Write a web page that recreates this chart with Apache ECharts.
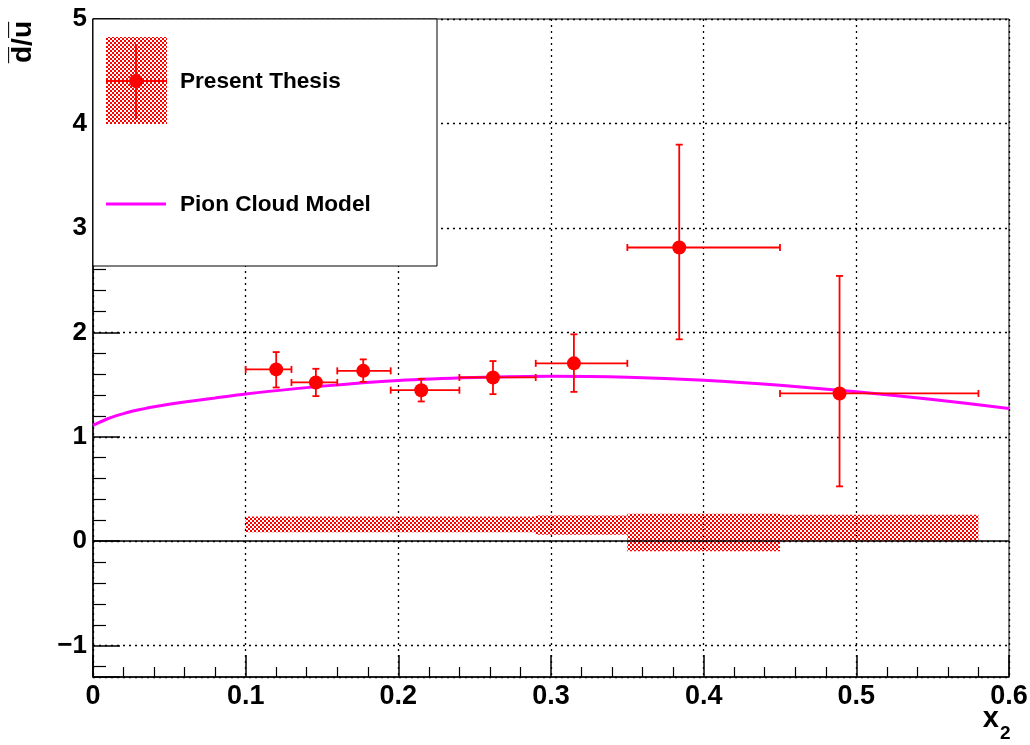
<!DOCTYPE html>
<html>
<head>
<meta charset="utf-8">
<script src="https://cdn.jsdelivr.net/npm/echarts@6/dist/echarts.min.js"></script>
<style>
  html, body { margin: 0; padding: 0; background: #fff; }
  #chart { width: 1030px; height: 745px; }
</style>
</head>
<body>
<div id="chart"></div>
<script>
// ---- data ----
const xCenter  = [0.120, 0.146, 0.177, 0.215, 0.262, 0.315, 0.384, 0.489];
const xLow     = [0.100, 0.130, 0.160, 0.195, 0.240, 0.290, 0.350, 0.450];
const xHigh    = [0.130, 0.160, 0.195, 0.240, 0.290, 0.350, 0.450, 0.580];
const ratio    = [1.645, 1.520, 1.631, 1.446, 1.568, 1.703, 2.812, 1.415];
const statLow  = [1.472, 1.389, 1.526, 1.338, 1.408, 1.430, 1.933, 0.525];
const statHigh = [1.811, 1.651, 1.741, 1.555, 1.725, 1.981, 3.797, 2.540];
const sysLow   = [0.086, 0.086, 0.086, 0.086, 0.086, 0.061, -0.096, 0.000];
const sysHigh  = [0.237, 0.237, 0.237, 0.237, 0.237, 0.247, 0.263, 0.253];

const curveX = [0, 0.01, 0.02, 0.03, 0.04, 0.06, 0.08, 0.10, 0.15, 0.20, 0.25, 0.30, 0.35, 0.40, 0.45, 0.50, 0.55, 0.60];
const curveY = [1.11, 1.175, 1.222, 1.258, 1.288, 1.333, 1.372, 1.41, 1.485, 1.54, 1.568, 1.58, 1.571, 1.542, 1.494, 1.43, 1.357, 1.27];

const xTickLabels = ['0', '0.1', '0.2', '0.3', '0.4', '0.5', '0.6'];
const yTickValues = [-1, 0, 1, 2, 3, 4, 5];
const seriesNames = ['Present Thesis', 'Pion Cloud Model'];
const xTitle = 'x';
const xTitleSub = '2';
const yTitle = 'd\u0305/u\u0305';

// ---- styling helpers ----
const FONT = "'Liberation Sans', Arial, Helvetica, sans-serif";
const RED = '#ff0000';
const MAGENTA = '#ff00ff';

function makePattern() {
  const c = document.createElement('canvas');
  c.width = 4; c.height = 4;
  const g = c.getContext('2d');
  g.fillStyle = RED;
  g.fillRect(0, 0, 2, 2);
  g.fillRect(2, 2, 2, 2);
  return c;
}
const patternFill = { image: makePattern(), repeat: 'repeat' };

const pointData = xCenter.map((x, i) => [x, ratio[i], xLow[i], xHigh[i], statLow[i], statHigh[i]]);
const sysData = xCenter.map((x, i) => [xLow[i], xHigh[i], sysLow[i], sysHigh[i]]);
const curveData = curveX.map((x, i) => [x, curveY[i]]);

const chart = echarts.init(document.getElementById('chart'), null, { renderer: 'canvas' });

const option = {
  animation: false,
  backgroundColor: '#ffffff',
  grid: {
    left: 93, right: 21, top: 19, bottom: 68,
    containLabel: false, outerBoundsMode: 'none',
    show: true, borderColor: '#000', borderWidth: 1, backgroundColor: 'transparent'
  },
  xAxis: {
    type: 'value', min: 0, max: 0.6, interval: 0.1,
    axisLine: { show: true, onZero: false, lineStyle: { color: '#000', width: 1.5 } },
    axisTick: { show: true, inside: true, length: 22, lineStyle: { color: '#000', width: 1.5 } },
    minorTick: { show: true, splitNumber: 5, length: 10, lineStyle: { color: '#000', width: 1.2 } },
    splitLine: { show: true, lineStyle: { color: '#000', width: 1.3, type: [2, 4] } },
    axisLabel: {
      show: true, margin: 6, color: '#000', fontFamily: FONT, fontWeight: 'bold', fontSize: 27,
      formatter: v => xTickLabels[Math.round(v * 10)] ?? ''
    }
  },
  yAxis: {
    type: 'value', min: -1.3, max: 5, splitNumber: 6,
    axisLine: { show: true, onZero: false, lineStyle: { color: '#000', width: 1.5 } },
    axisTick: { show: true, inside: true, length: 27, lineStyle: { color: '#000', width: 1.5 } },
    minorTick: { show: true, splitNumber: 5, length: 13, lineStyle: { color: '#000', width: 1.2 } },
    splitLine: { show: true, lineStyle: { color: '#000', width: 1.3, type: [2, 4] } },
    axisLabel: {
      show: true, margin: 6, color: '#000', fontFamily: FONT, fontWeight: 'bold', fontSize: 26,
      formatter: v => {
        const k = yTickValues.find(t => Math.abs(t - v) < 1e-9);
        if (k === undefined) return '';
        return k < 0 ? '\u2212' + Math.abs(k) : String(k);
      }
    }
  },
  series: [
    {
      name: 'sys',
      type: 'custom',
      data: sysData,
      encode: { x: [0, 1], y: [2, 3] },
      z: 3,
      silent: true,
      renderItem: (params, api) => {
        const p1 = api.coord([api.value(0), api.value(3)]);
        const p2 = api.coord([api.value(1), api.value(2)]);
        return {
          type: 'rect',
          shape: { x: p1[0], y: p1[1], width: p2[0] - p1[0], height: p2[1] - p1[1] },
          style: { fill: patternFill }
        };
      }
    },
    {
      name: seriesNames[1],
      type: 'line',
      data: curveData,
      smooth: 0.25,
      showSymbol: false,
      symbol: 'none',
      z: 4,
      lineStyle: { color: MAGENTA, width: 3 },
      markLine: {
        silent: true, symbol: 'none', animation: false,
        label: { show: false },
        lineStyle: { color: '#000', width: 1.5, type: 'solid' },
        data: [{ yAxis: 0 }]
      }
    },
    {
      name: seriesNames[0],
      type: 'custom',
      data: pointData,
      encode: { x: [0, 2, 3], y: [1, 4, 5] },
      z: 5,
      silent: true,
      renderItem: (params, api) => {
        const c = api.coord([api.value(0), api.value(1)]);
        const l = api.coord([api.value(2), api.value(1)]);
        const r = api.coord([api.value(3), api.value(1)]);
        const lo = api.coord([api.value(0), api.value(4)]);
        const hi = api.coord([api.value(0), api.value(5)]);
        const cap = 3.5;
        const st = { stroke: RED, lineWidth: 1.8 };
        return {
          type: 'group',
          children: [
            { type: 'line', shape: { x1: l[0], y1: c[1], x2: r[0], y2: c[1] }, style: st },
            { type: 'line', shape: { x1: l[0], y1: c[1] - cap, x2: l[0], y2: c[1] + cap }, style: st },
            { type: 'line', shape: { x1: r[0], y1: c[1] - cap, x2: r[0], y2: c[1] + cap }, style: st },
            { type: 'line', shape: { x1: c[0], y1: hi[1], x2: c[0], y2: lo[1] }, style: st },
            { type: 'line', shape: { x1: c[0] - cap, y1: hi[1], x2: c[0] + cap, y2: hi[1] }, style: st },
            { type: 'line', shape: { x1: c[0] - cap, y1: lo[1], x2: c[0] + cap, y2: lo[1] }, style: st },
            { type: 'circle', shape: { cx: c[0], cy: c[1], r: 7 }, style: { fill: RED } }
          ]
        };
      }
    }
  ],
  graphic: [
    // legend box
    { type: 'rect', z: 100, shape: { x: 93, y: 19, width: 344, height: 247 },
      style: { fill: '#fff', stroke: '#000', lineWidth: 1 } },
    { type: 'rect', z: 101, shape: { x: 106, y: 37, width: 61, height: 87 },
      style: { fill: patternFill } },
    { type: 'line', z: 102, shape: { x1: 136, y1: 44, x2: 136, y2: 119 }, style: { stroke: RED, lineWidth: 1.8 } },
    { type: 'line', z: 102, shape: { x1: 106, y1: 81, x2: 167, y2: 81 }, style: { stroke: RED, lineWidth: 1.8 } },
    { type: 'circle', z: 103, shape: { cx: 136, cy: 81, r: 7 }, style: { fill: RED } },
    { type: 'text', z: 103, style: { text: seriesNames[0], x: 180, y: 82, fill: '#000',
      font: "bold 22.6px " + FONT, textAlign: 'left', textVerticalAlign: 'middle' } },
    { type: 'line', z: 102, shape: { x1: 106, y1: 204, x2: 166, y2: 204 }, style: { stroke: MAGENTA, lineWidth: 3 } },
    { type: 'text', z: 103, style: { text: seriesNames[1], x: 180, y: 205, fill: '#000',
      font: "bold 22.6px " + FONT, textAlign: 'left', textVerticalAlign: 'middle' } },
    // y axis title
    { type: 'text', z: 103, x: 23, y: 42, rotation: Math.PI / 2,
      style: { text: yTitle, x: 0, y: 0, fill: '#000', font: "bold 28px " + FONT,
        textAlign: 'center', textVerticalAlign: 'middle' } },
    // x axis title
    { type: 'text', z: 103, style: { text: xTitle, x: 999, y: 733, fill: '#000',
      font: "bold 29px " + FONT, textAlign: 'right', textVerticalAlign: 'bottom' } },
    { type: 'text', z: 103, style: { text: xTitleSub, x: 1000, y: 743, fill: '#000',
      font: "bold 19px " + FONT, textAlign: 'left', textVerticalAlign: 'bottom' } }
  ]
};

chart.setOption(option);
</script>
</body>
</html>
